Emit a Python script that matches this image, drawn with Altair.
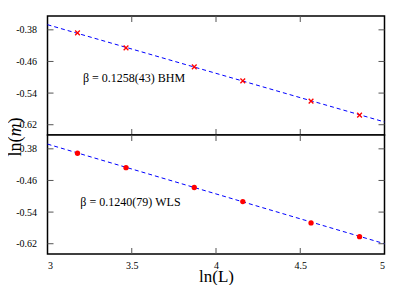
import altair as alt
import pandas as pd

lnL = [3.178, 3.466, 3.871, 4.159, 4.564, 4.852]
bhm = [-0.3876, -0.4256, -0.4737, -0.5090, -0.5603, -0.5957]
wls = [-0.3912, -0.4276, -0.4778, -0.5135, -0.5673, -0.6022]
fit_x = [3.0, 5.0]
bhm_fit = [-0.367, -0.613]
wls_fit = [-0.368, -0.620]
x_ticks = [3.5, 4.0, 4.5]
x_labels = [3.0, 3.5, 4.0, 4.5, 5.0]
y_ticks = [-0.62, -0.54, -0.46, -0.38]
labels = ["β = 0.1258(43) BHM", "β = 0.1240(79) WLS"]
label_pos = [(3.21, -0.503), (3.195, -0.515)]
ytitle_parts = ["ln(", "m", ")"]

W, H = 337, 119
FONT = "Liberation Serif"
xdom = [3, 5]
ydom = [-0.646, -0.345]


def panel(yvals, fitvals, shape, label, lpos, bottom):
    pts = pd.DataFrame({"x": lnL, "y": yvals})
    fit = pd.DataFrame({"x": fit_x, "y": fitvals})
    xt = pd.DataFrame({"x": x_ticks})
    yt = pd.DataFrame({"y": y_ticks})
    lab = pd.DataFrame({"x": [lpos[0]], "y": [lpos[1]], "t": [label]})

    if bottom:
        xaxis = alt.Axis(values=x_labels, labelExpr="'' + datum.value", ticks=False, domain=False,
                         grid=False, labelFont=FONT, labelFontSize=10, labelColor="black",
                         labelPadding=6, title="ln(L)", titleFont=FONT, titleFontSize=17,
                         titleFontWeight="normal", titleColor="black", titlePadding=-2)
    else:
        xaxis = None
    yaxis = alt.Axis(values=y_ticks, labelExpr="'-' + format(abs(datum.value), '.2f')",
                     ticks=False, domain=False, grid=False, labelFont=FONT, labelFontSize=10,
                     labelColor="black", labelPadding=11, title=None)
    xs = alt.Scale(domain=xdom, nice=False, zero=False)
    ys = alt.Scale(domain=ydom, nice=False, zero=False)

    def X(f):
        return alt.X(f, scale=xs, axis=xaxis, title=None if not bottom else "ln(L)")

    def Y(f):
        return alt.Y(f, scale=ys, axis=yaxis)

    line = alt.Chart(fit).mark_line(color="#0000ff", strokeDash=[4, 3], strokeWidth=1).encode(
        x=X("x:Q"), y=Y("y:Q"))
    if shape == "cross":
        p = alt.Chart(pts).mark_point(shape="M-1,-1L1,1M-1,1L1,-1", color="#ff0000", filled=False,
                                      size=22, strokeWidth=1.3, opacity=1)
    else:
        p = alt.Chart(pts).mark_circle(color="#ff0000", size=28, opacity=1)
    p = p.encode(x=X("x:Q"), y=Y("y:Q"))
    txt = alt.Chart(lab).mark_text(font=FONT, fontSize=12, align="left", baseline="middle",
                                   color="black").encode(
        x=X("x:Q"), y=Y("y:Q"), text="t:N")
    tick_col = "#555555"
    xt_top = alt.Chart(xt).mark_rule(color=tick_col, strokeWidth=1).encode(
        x=X("x:Q"), y=alt.value(0), y2=alt.value(6))
    xt_bot = alt.Chart(xt).mark_rule(color=tick_col, strokeWidth=1).encode(
        x=X("x:Q"), y=alt.value(H - 6), y2=alt.value(H))
    yt_l = alt.Chart(yt).mark_rule(color=tick_col, strokeWidth=1).encode(
        y=Y("y:Q"), x=alt.value(0), x2=alt.value(6))
    yt_r = alt.Chart(yt).mark_rule(color=tick_col, strokeWidth=1).encode(
        y=Y("y:Q"), x=alt.value(W - 6), x2=alt.value(W))
    layers = [line, p, txt, xt_top, xt_bot, yt_l, yt_r]
    if not bottom:
        # y-axis title "ln(m)" with italic m, rotated
        fs = 18
        centers = [130.5, 114.0, 104.5]
        styles = ["normal", "italic", "normal"]
        for part, cy, st in zip(ytitle_parts, centers, styles):
            layers.append(
                alt.Chart(pd.DataFrame({"t": [part]})).mark_text(
                    font=FONT, fontSize=fs, fontStyle=st, angle=270, align="center",
                    baseline="alphabetic", color="black").encode(
                    x=alt.value(-26.5), y=alt.value(cy), text="t:N"))
    return alt.layer(*layers).properties(
        width=W, height=H,
        view=alt.ViewBackground(stroke="black", strokeWidth=1.5, fill="white"))


top = panel(bhm, bhm_fit, "cross", labels[0], label_pos[0], False)
bot = panel(wls, wls_fit, "circle", labels[1], label_pos[1], True)

chart = alt.vconcat(top, bot, spacing=0, bounds="flush").properties(
    padding={"left": -2.5, "top": 6, "right": 5, "bottom": 0}
).configure_view(stroke="black", strokeWidth=1.5)

chart.save("out.html", embed_options={"renderer": "svg", "actions": False})
